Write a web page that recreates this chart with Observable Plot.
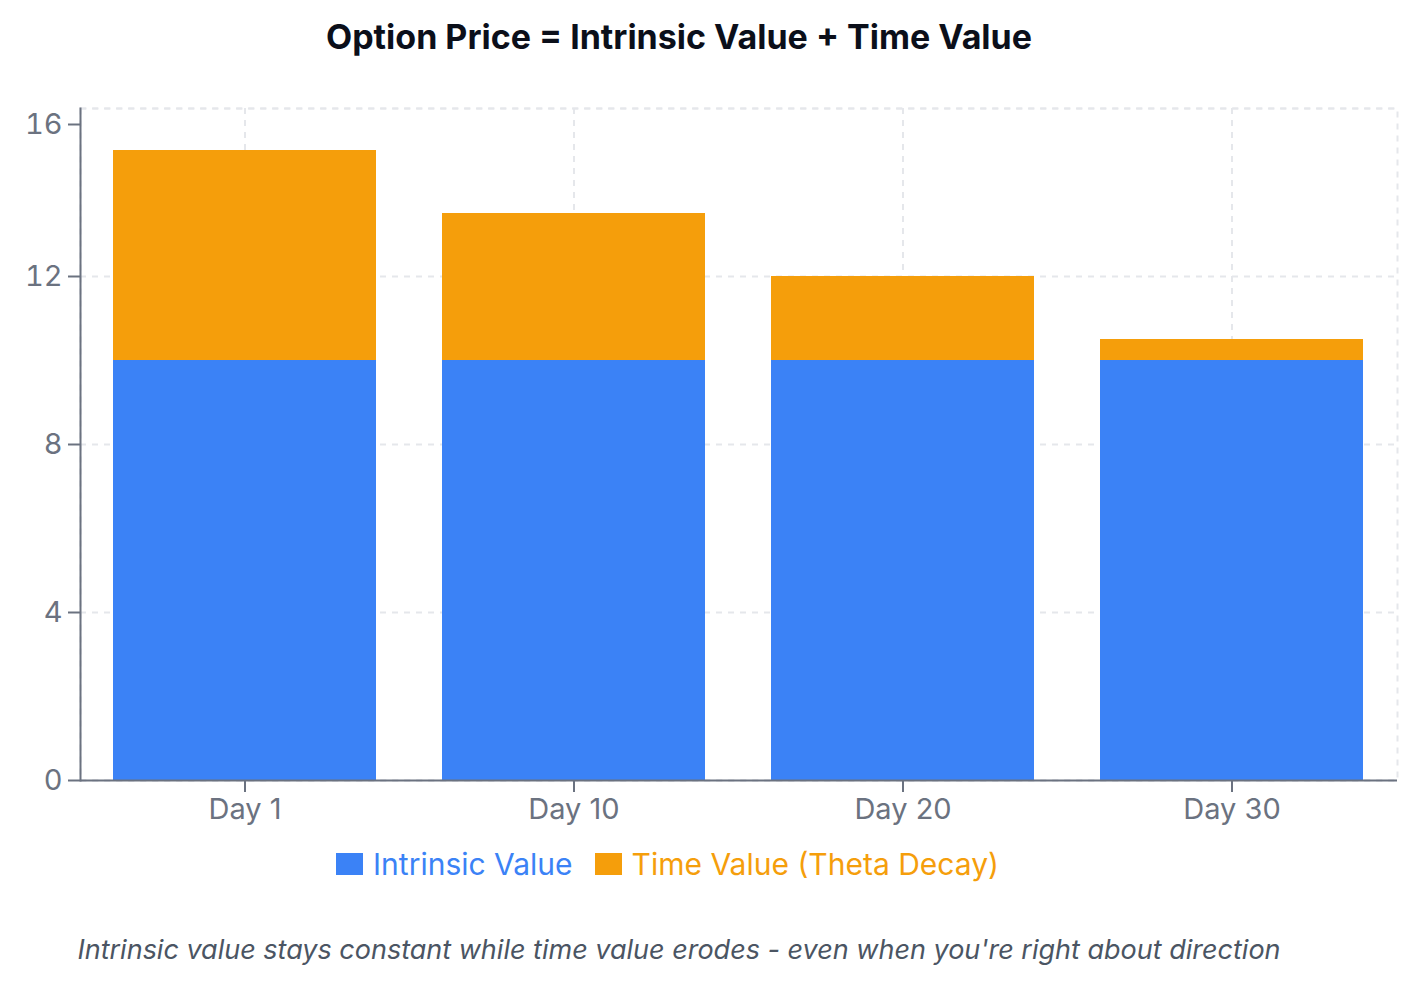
<!DOCTYPE html>
<html>
<head>
<meta charset="utf-8">
<script src="https://cdn.jsdelivr.net/npm/d3@7"></script>
<script src="https://cdn.jsdelivr.net/npm/@observablehq/plot@0.6"></script>
<style>
  html, body { margin: 0; padding: 0; background: #fff; font-family: Inter, "Noto Sans", sans-serif; }
  #wrap { position: relative; width: 1422px; height: 998px; }
  #title { position: absolute; top: 16px; left: 0; width: 1358px; text-align: center; font-size: 34px; font-weight: 700; color: #0b0f1a; }
  #chart { position: absolute; top: 80px; left: 0; }
  #legend { position: absolute; top: 846px; left: 0; width: 1335px; display: flex; justify-content: center; gap: 22px; font-size: 30px; }
  #legend .item { display: flex; align-items: center; gap: 10px; }
  #legend .sw { width: 27px; height: 22px; display: inline-block; }
  #caption { position: absolute; top: 933px; left: 0; width: 1358px; text-align: center; font-size: 27px; font-style: italic; color: #4b5563; }
</style>
</head>
<body>
<div id="wrap">
  <div id="title"></div>
  <div id="chart"></div>
  <div id="legend"></div>
  <div id="caption"></div>
</div>
<script>
const titleText = "Option Price = Intrinsic Value + Time Value";
const captionText = "Intrinsic value stays constant while time value erodes - even when you're right about direction";
const days = ["Day 1", "Day 10", "Day 20", "Day 30"];
const intrinsicValue = [10, 10, 10, 10];
const timeValue = [5, 3.5, 2, 0.5];
const seriesNames = ["Intrinsic Value", "Time Value (Theta Decay)"];
const seriesColors = ["#3b82f6", "#f59e0b"];
const yTicks = [0, 4, 8, 12, 16];

const rows = [];
days.forEach((d, i) => {
  rows.push({day: d, series: seriesNames[0], value: intrinsicValue[i]});
  rows.push({day: d, series: seriesNames[1], value: timeValue[i]});
});

document.getElementById("title").textContent = titleText;
document.getElementById("caption").textContent = captionText;

const lg = document.getElementById("legend");
seriesNames.forEach((n, i) => {
  const it = document.createElement("div");
  it.className = "item";
  it.innerHTML = `<span class="sw" style="background:${seriesColors[i]}"></span><span style="color:${seriesColors[i]}">${n}</span>`;
  lg.appendChild(it);
});

const gridColor = "#e5e7eb";
const axisColor = "#6b7280";

const chart = Plot.plot({
  width: 1422,
  height: 780,
  marginLeft: 80,
  marginRight: 25,
  marginTop: 28,
  marginBottom: 80,
  style: { fontFamily: "Inter, sans-serif", fontSize: "29px", color: axisColor, background: "transparent" },
  x: { domain: days, paddingInner: 0.2, paddingOuter: 0.1, label: null },
  y: { domain: [0, 16], label: null },
  color: { domain: seriesNames, range: seriesColors },
  marks: [
    Plot.gridY(yTicks, { stroke: gridColor, strokeOpacity: 1, strokeWidth: 2, strokeDasharray: "6,6" }),
    Plot.gridX({ stroke: gridColor, strokeOpacity: 1, strokeWidth: 2, strokeDasharray: "6,6" }),
    Plot.frame({ stroke: gridColor, strokeWidth: 2, strokeDasharray: "6,6" }),
    Plot.barY(rows, { x: "day", y: "value", fill: "series", order: seriesNames }),
    Plot.axisY([0, 4, 8, 12], { tickSize: 12, tickPadding: 6, stroke: axisColor, strokeWidth: 2, fill: axisColor, fontSize: 29, label: null }),
    Plot.axisY([16], { tickSize: 12, tickPadding: 6, stroke: axisColor, strokeWidth: 2, fill: axisColor, fontSize: 29, dy: 16, label: null }),
    Plot.axisX({ tickSize: 12, tickPadding: 6, stroke: axisColor, strokeWidth: 2, fill: axisColor, fontSize: 29, label: null }),
    Plot.frame({ anchor: "left", stroke: axisColor, strokeWidth: 2 }),
    Plot.ruleY([0], { stroke: axisColor, strokeWidth: 2 })
  ]
});
document.getElementById("chart").appendChild(chart);
</script>
</body>
</html>
